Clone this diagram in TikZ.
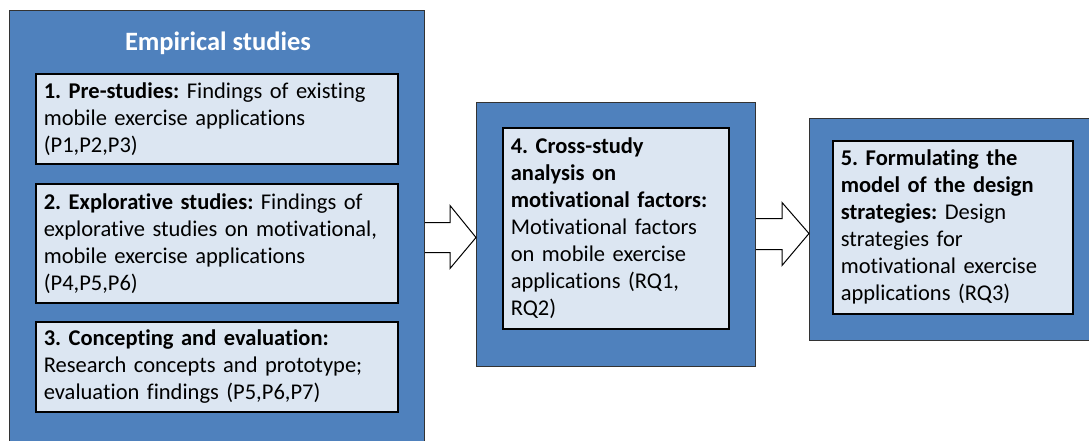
\documentclass[tikz,border=0pt]{standalone}
\usepackage{fontspec}
\setmainfont[Ligatures=NoCommon]{Carlito}
\frenchspacing
\usetikzlibrary{calc}
\definecolor{outerblue}{HTML}{4F81BD}
\definecolor{innerblue}{HTML}{DCE6F2}

\begin{document}
\begin{tikzpicture}[x=1pt, y=-1pt,
        outerbox/.style={draw=black!80, line width=1pt, fill=outerblue, anchor=north west, inner sep=0pt},
        innerbox/.style={draw=black, line width=1.6pt, fill=innerblue, anchor=north west, inner sep=8pt,
            align=left, font=\fontsize{22.5}{27}\selectfont},
        blockarrow/.style={draw=black, line width=1pt, fill=white, line join=miter}]
        \useasboundingbox (0,0) rectangle (1089,441);

        % Empirical studies
        \node[outerbox, minimum width=415, minimum height=440] (studies) at (9,10) {};
        \node[font=\fontsize{26.5}{30}\selectfont\bfseries, text=white] (title) at (218,43) {Empirical studies};
        \node[innerbox, minimum width=362, minimum height=90, text width=346] (pre) at (35,73)
            {\textbf{1. Pre-studies:} Findings of existing\\ mobile exercise applications\\ (P1,P2,P3)};
        \node[innerbox, minimum width=362, minimum height=119, text width=346] (explore) at (35,183)
            {\textbf{2. Explorative studies:} Findings of\\ explorative studies on motivational,\\ mobile exercise applications\\ (P4,P5,P6)};
        \node[innerbox, minimum width=362, minimum height=90, text width=346] (concept) at (35,321)
            {\textbf{3. Concepting and evaluation:}\\ Research concepts and prototype;\\ evaluation findings (P5,P6,P7)};

        % Cross-study analysis
        \node[outerbox, minimum width=279, minimum height=264] (crossbg) at (476,102) {};
        \node[innerbox, minimum width=226, minimum height=201, text width=210] (cross) at (502,127)
            {\textbf{4. Cross-study}\\ \textbf{analysis on}\\ \textbf{motivational factors:}\\ Motivational factors\\ on mobile exercise\\ applications (RQ1,\\ RQ2)};

        % Design strategies model
        \node[outerbox, minimum width=290, minimum height=222] (modelbg) at (809,118) {};
        \node[innerbox, minimum width=240, minimum height=173, text width=224] (model) at (832,140)
            {\textbf{5. Formulating the}\\ \textbf{model of the design}\\ \textbf{strategies:} Design\\ strategies for\\ motivational exercise\\ applications (RQ3)};

        % Block arrows
        \coordinate (tipA) at ($(crossbg.west)+(0,3)$);
        \coordinate (tipB) at ($(modelbg.west)+(0,4)$);
        \draw[blockarrow] ($(studies.east |- tipA)+(0,-15)$) -- ($(tipA)+(-26,-15)$) -- ($(tipA)+(-26,-32)$)
            -- (tipA) -- ($(tipA)+(-26,31)$) -- ($(tipA)+(-26,15)$) -- ($(studies.east |- tipA)+(0,15)$);
        \draw[blockarrow] ($(crossbg.east |- tipB)+(0,-15)$) -- ($(tipB)+(-27,-15)$) -- ($(tipB)+(-27,-31)$)
            -- (tipB) -- ($(tipB)+(-27,32)$) -- ($(tipB)+(-27,16)$) -- ($(crossbg.east |- tipB)+(0,16)$);
    \end{tikzpicture}
\end{document}
